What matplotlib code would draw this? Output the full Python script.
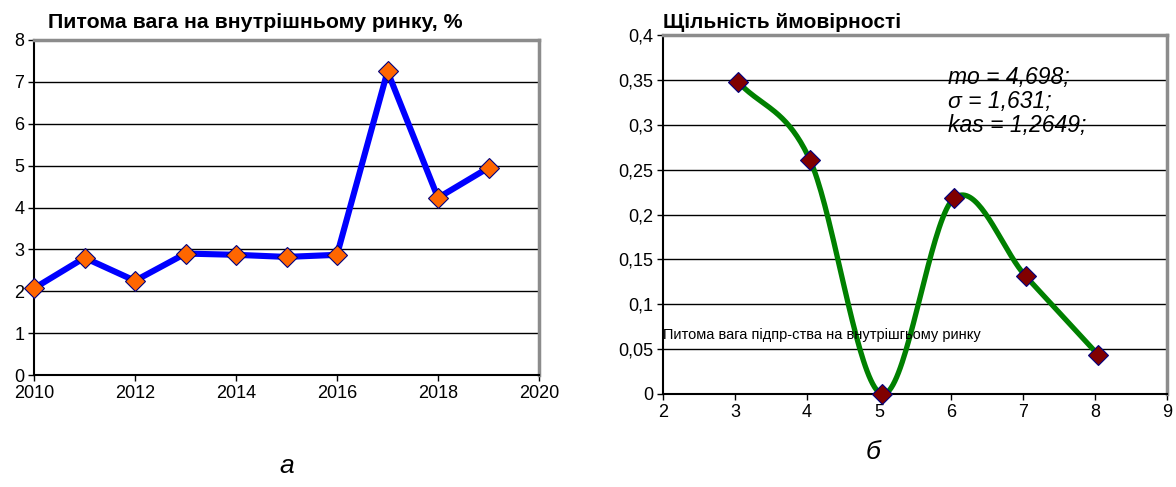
import matplotlib
matplotlib.use("Agg")
import matplotlib.pyplot as plt
import numpy as np
from matplotlib.ticker import FuncFormatter

plt.rcParams['font.family'] = ['Liberation Sans', 'DejaVu Sans']

# left chart data
years = [2010, 2011, 2012, 2013, 2014, 2015, 2016, 2017, 2018, 2019]
share = [2.07, 2.8, 2.25, 2.9, 2.87, 2.82, 2.87, 7.25, 4.23, 4.95]

# right chart data
dens_x = [3.04, 4.04, 5.04, 6.04, 7.04, 8.04]
dens_y = [0.348, 0.261, 0.0, 0.218, 0.131, 0.044]

stats_lines = ["mo = 4,698;", "σ = 1,631;", "kas = 1,2649;"]


def smooth(xs, ys, n=40):
    # Catmull-Rom style smoothing like a spreadsheet "smoothed line"
    xs = np.asarray(xs, float)
    ys = np.asarray(ys, float)
    px = np.concatenate([[2 * xs[0] - xs[1]], xs, [2 * xs[-1] - xs[-2]]])
    py = np.concatenate([[2 * ys[0] - ys[1]], ys, [2 * ys[-1] - ys[-2]]])
    outx, outy = [], []
    t = np.linspace(0, 1, n)
    for i in range(1, len(px) - 2):
        for p, out in ((px, outx), (py, outy)):
            p0, p1, p2, p3 = p[i - 1], p[i], p[i + 1], p[i + 2]
            out.extend(0.5 * ((2 * p1) + (-p0 + p2) * t
                              + (2 * p0 - 5 * p1 + 4 * p2 - p3) * t ** 2
                              + (-p0 + 3 * p1 - 3 * p2 + p3) * t ** 3))
    return np.array(outx), np.array(outy)


def style_axes(ax):
    ax.grid(axis='y', color='black', linewidth=1)
    ax.set_axisbelow(True)
    ax.spines['left'].set_color('black')
    ax.spines['left'].set_linewidth(1.5)
    ax.spines['bottom'].set_color('black')
    ax.spines['bottom'].set_linewidth(1.5)
    ax.spines['top'].set_color('#8c8c8c')
    ax.spines['top'].set_linewidth(2.5)
    ax.spines['right'].set_color('#8c8c8c')
    ax.spines['right'].set_linewidth(2.5)
    ax.tick_params(direction='out', length=4, width=1, labelsize=13, pad=3)


fig = plt.figure(figsize=(11.76, 4.87), dpi=100)

# --- chart a ---
ax1 = fig.add_axes([34 / 1176, 1 - 375 / 487, 505 / 1176, 335 / 487])
ax1.plot(years, share, color='#0000FF', linewidth=4.4, marker='D', markersize=10.5,
         markerfacecolor='#FF6600', markeredgecolor='#000080', markeredgewidth=0.8,
         clip_on=False, zorder=3)
ax1.set_xlim(2010, 2020)
ax1.set_ylim(0, 8)
ax1.set_xticks(range(2010, 2021, 2))
ax1.set_yticks(range(0, 9))
style_axes(ax1)
ax1.set_title("Питома вага на внутрішньому ринку, %", fontsize=15.3, fontweight='bold',
              loc='left', x=0.027, pad=9)

# --- chart b ---
ax2 = fig.add_axes([663 / 1176, 1 - 394 / 487, 504 / 1176, 359 / 487])
sx, sy = smooth(dens_x, dens_y)
ax2.plot(sx, sy, color='#008000', linewidth=3.8, solid_capstyle='round', clip_on=False)
ax2.plot(dens_x, dens_y, linestyle='none', marker='D', markersize=10.5,
         markerfacecolor='#800000', markeredgecolor='#000080', markeredgewidth=0.8,
         clip_on=False, zorder=3)
ax2.set_xlim(2, 9)
ax2.set_ylim(0, 0.4)
ax2.set_xticks(range(2, 10))
ax2.set_yticks(np.arange(0, 0.401, 0.05))
ax2.yaxis.set_major_formatter(FuncFormatter(lambda v, p: ('%g' % round(v, 2)).replace('.', ',')))
style_axes(ax2)
ax2.set_title("Щільність ймовірності", fontsize=15, fontweight='bold',
              loc='left', x=0.0, pad=5)
ax2.text(0.565, 0.915, "\n".join(stats_lines), transform=ax2.transAxes,
         fontsize=16.5, fontstyle='italic', va='top', ha='left', linespacing=1.08)
ax2.text(0.0, 0.165, "Питома вага підпр-ства на внутрішгьому ринку",
         transform=ax2.transAxes, fontsize=10.5, va='center', ha='left')

# panel letters
fig.text(287 / 1176, 1 - 466 / 487, "а", fontsize=19, fontstyle='italic', ha='center', va='center')
fig.text(873 / 1176, 1 - 452 / 487, "б", fontsize=19, fontstyle='italic', ha='center', va='center')

fig.savefig("out.png", dpi=100)
